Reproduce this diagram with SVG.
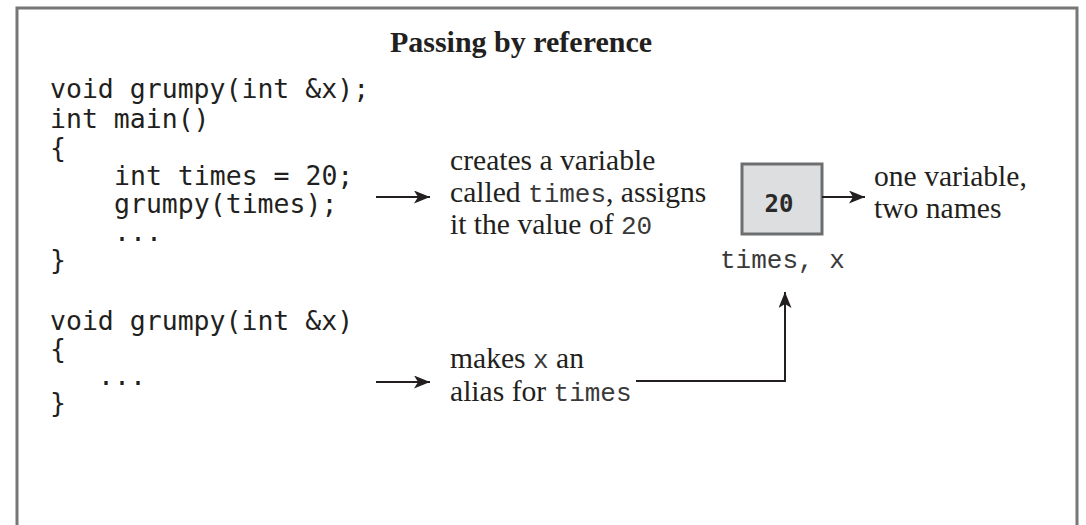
<svg xmlns="http://www.w3.org/2000/svg" width="1086" height="525" viewBox="0 0 1086 525">
<style>
.code{font-family:"DejaVu Sans Mono",monospace;font-size:26.5px;fill:#231f20}
.serif{font-family:"Liberation Serif","Times New Roman",serif;font-size:29.6px;fill:#231f20}
.mono{font-family:"Liberation Mono","Courier New",monospace;font-size:26px;fill:#3a3a3a}
.title{font-family:"Liberation Serif","Times New Roman",serif;font-size:30px;font-weight:bold;fill:#231f20}
.conn{stroke:#231f20;stroke-width:2;fill:none;marker-end:url(#ah)}
</style>
<defs>
<marker id="ah" markerUnits="userSpaceOnUse" markerWidth="17" markerHeight="14" refX="16" refY="6.5" orient="auto">
<path d="M0,0 L16,6.5 L0,13 L4,6.5 z" fill="#231f20"/>
</marker>
</defs>
<rect width="1086" height="525" fill="#ffffff"/>
<g id="frame">
<path d="M17,530 V8 H1077 V530" fill="none" stroke="#777777" stroke-width="3"/>
</g>
<g id="title">
<text class="title" x="521" y="52" text-anchor="middle">Passing by reference</text>
</g>
<g id="code">
<text class="code" x="50" y="98">void grumpy(int &amp;x);</text>
<text class="code" x="50" y="128">int main()</text>
<text class="code" x="50" y="157">{</text>
<text class="code" x="114" y="185">int times = 20;</text>
<text class="code" x="114" y="213">grumpy(times);</text>
<text class="code" x="114" y="241">...</text>
<text class="code" x="50" y="269">}</text>
<text class="code" x="50" y="330">void grumpy(int &amp;x)</text>
<text class="code" x="50" y="358">{</text>
<text class="code" x="98" y="385">...</text>
<text class="code" x="50" y="412">}</text>
</g>
<g id="note1">
<text class="serif" x="450" y="170">creates a variable</text>
<text class="serif" x="450" y="202">called <tspan class="mono">times</tspan>, assigns</text>
<text class="serif" x="450" y="234">it the value of <tspan class="mono">20</tspan></text>
</g>
<g id="box">
<rect x="742" y="164" width="80" height="70" fill="#dddee0" stroke="#6d6e70" stroke-width="3"/>
<text x="779" y="212" text-anchor="middle" style="font-family:'DejaVu Sans Mono',monospace;font-size:24px;font-weight:bold;fill:#2a2a2a">20</text>
<text class="mono" x="720" y="268">times, x</text>
</g>
<g id="note2">
<text class="serif" x="874" y="186">one variable,</text>
<text class="serif" x="874" y="218">two names</text>
</g>
<g id="note3">
<text class="serif" x="450" y="368">makes <tspan class="mono">x</tspan> an</text>
<text class="serif" x="450" y="401">alias for <tspan class="mono">times</tspan></text>
</g>
<g id="connectors">
<line class="conn" x1="376" y1="197" x2="430" y2="197"/>
<line class="conn" x1="822" y1="197" x2="865" y2="197"/>
<line class="conn" x1="376" y1="382" x2="430" y2="382"/>
<polyline class="conn" points="636,381 785,381 785,292"/>
</g>
</svg>
